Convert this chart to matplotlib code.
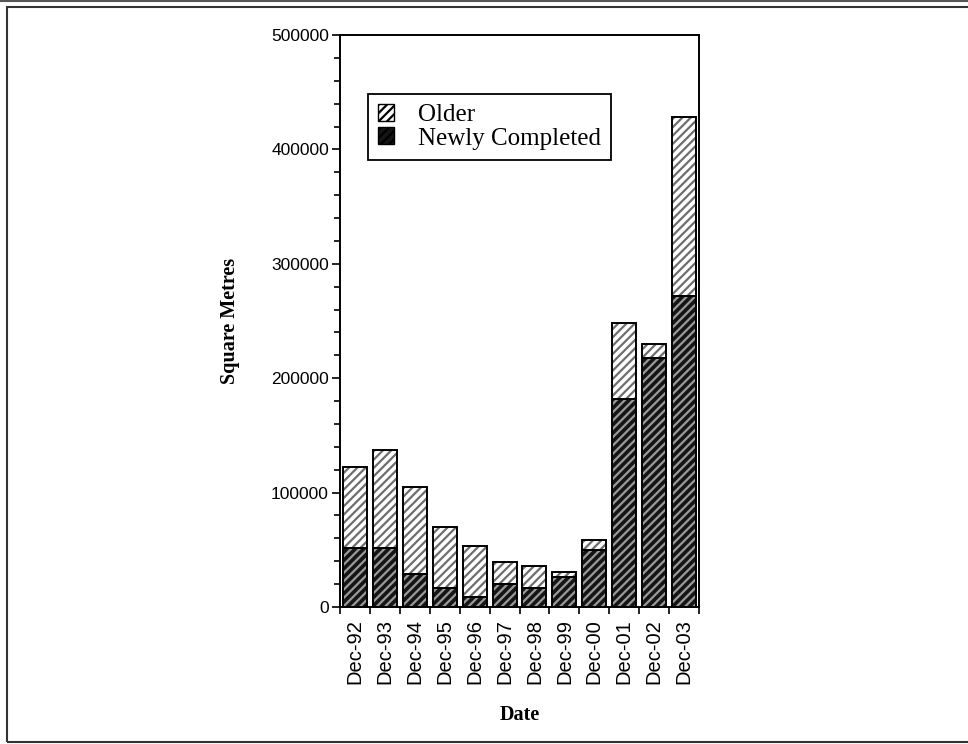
import matplotlib
matplotlib.use("Agg")
import matplotlib.pyplot as plt
from matplotlib.patches import Rectangle, Patch
from matplotlib.lines import Line2D
from matplotlib.ticker import MultipleLocator, FixedLocator
import numpy as np

dates = ["Dec-92", "Dec-93", "Dec-94", "Dec-95", "Dec-96", "Dec-97",
         "Dec-98", "Dec-99", "Dec-00", "Dec-01", "Dec-02", "Dec-03"]
newly_completed = [52000, 52000, 29000, 17000, 9000, 20000,
                   16500, 26000, 50000, 182000, 218000, 272000]
older = [70000, 85000, 76000, 53000, 44000, 19500,
         19500, 4500, 8500, 66000, 12000, 156000]

plt.rcParams['hatch.linewidth'] = 1.6
fig = plt.figure(figsize=(9.68, 7.44), dpi=100)
ax = fig.add_axes([340/968, 1-607/744, (699-340)/968, (607-35)/744])

x = np.arange(len(dates))
w = 0.8
# newly completed: dark with lighter hatch
ax.bar(x, newly_completed, width=w, color="#151515", edgecolor="#9a9a9a",
       hatch="////", linewidth=0, zorder=2)
ax.bar(x, newly_completed, width=w, fill=False, edgecolor="black",
       linewidth=1.4, zorder=3)
# older: white with gray hatch
ax.bar(x, older, bottom=newly_completed, width=w, color="white",
       edgecolor="#6e6e6e", hatch="////", linewidth=0, zorder=2)
ax.bar(x, older, bottom=newly_completed, width=w, fill=False,
       edgecolor="black", linewidth=1.4, zorder=3)

ax.set_xlim(-0.5, len(dates) - 0.5)
ax.set_ylim(0, 500000)
ax.yaxis.set_major_locator(MultipleLocator(100000))
ax.yaxis.set_minor_locator(MultipleLocator(20000))
ax.set_xticks(x)
ax.set_xticklabels(dates, rotation=90, fontsize=14.5, family="Liberation Sans")
ax.xaxis.set_minor_locator(FixedLocator(np.arange(-0.5, len(dates), 1.0)))
ax.tick_params(axis="x", which="major", length=0, pad=9)
ax.tick_params(axis="x", which="minor", length=5, direction="out", width=1.2)
ax.tick_params(axis="y", which="major", length=6, direction="out", width=1.2,
               labelsize=12.5, pad=2)
ax.tick_params(axis="y", which="minor", length=4, direction="out", width=1.2)
for lab in ax.get_yticklabels():
    lab.set_family("Liberation Sans")
for s in ax.spines.values():
    s.set_linewidth(1.4)

ax.set_ylabel("Square Metres", family="Liberation Serif", fontweight="bold",
              fontsize=14.5, labelpad=22)
ax.set_xlabel("Date", family="Liberation Serif", fontweight="bold",
              fontsize=14.5, labelpad=15)

handles = [Patch(facecolor="white", edgecolor="black", hatch="////", linewidth=1.0),
           Patch(facecolor="#151515", edgecolor="black", hatch="////", linewidth=1.0)]
leg = ax.legend(handles, ["Older", "Newly Completed"],
                loc="upper left", bbox_to_anchor=((368-340)/359, 1-(94-35)/572),
                prop={"family": "Liberation Serif", "size": 18},
                fancybox=False, framealpha=1, edgecolor="black",
                handlelength=0.65, handleheight=0.65, handletextpad=0.95,
                borderpad=0.4, labelspacing=0.05, borderaxespad=0)
leg.get_frame().set_linewidth(1.3)

# outer frame
fig.patches.append(Rectangle((7/968, 2/744), 2.0, (744-9)/744, transform=fig.transFigure,
                             fill=False, edgecolor="#333333", linewidth=1.5))
fig.lines.append(Line2D([0, 1], [1-0.8/744, 1-0.8/744], transform=fig.transFigure,
                        color="#555555", linewidth=1.5))
fig.savefig("out.png", dpi=100)
